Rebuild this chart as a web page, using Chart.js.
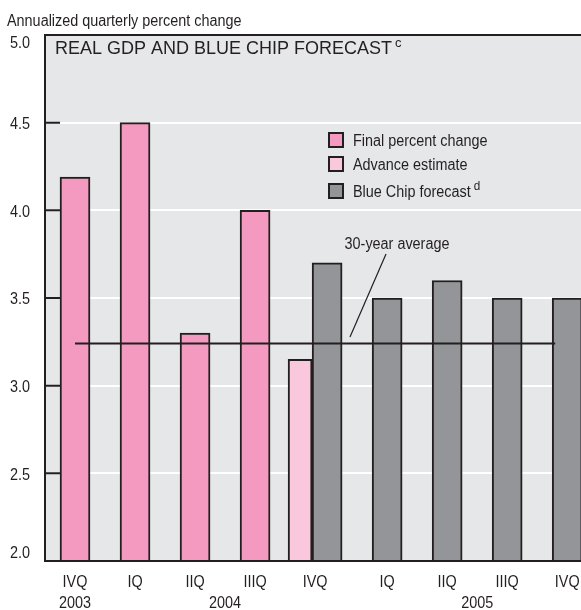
<!DOCTYPE html>
<html>
<head>
<meta charset="utf-8">
<script src="https://cdn.jsdelivr.net/npm/chart.js@4.4.0/dist/chart.umd.min.js"></script>
<style>
  html, body { margin: 0; padding: 0; background: #fff; }
  #wrap { width: 581px; height: 610px; }
</style>
</head>
<body>
<div id="wrap"><canvas id="chart"></canvas></div>
<script>
// quarters along the bottom, and the years they belong to
const quarters = ['IVQ', 'IQ', 'IIQ', 'IIIQ', 'IVQ', 'IQ', 'IIQ', 'IIIQ', 'IVQ'];
const years = ['2003', '2004', '2005'];
const yearFirstQuarter = [0, 1, 5];
const yearLastQuarter = [0, 4, 8];

// annualized quarterly percent change
const finalChange = [4.19, 4.5, 3.3, 4.0, null, null, null, null, null];
const advanceEstimate = [null, null, null, null, 3.15, null, null, null, null];
const blueChipForecast = [null, null, null, null, 3.7, 3.5, 3.6, 3.5, 3.5];
const thirtyYearAverage = 3.24;

const yTicks = [2.0, 2.5, 3.0, 3.5, 4.0, 4.5, 5.0];

const INK = '#231f20';
const FAMILY = '"Liberation Sans", Arial, sans-serif';
const SQUEEZE = 0.9; // condensed look for the axis and legend type

// the IVQ 2004 pair sits side by side, so the forecast bars are nudged right
const advanceShift = -0.25;
const forecastShift = 0.2;
const tickX = i => (i > 4 ? i + forecastShift : i);

const toPoints = (arr, shift) =>
  arr.map((v, i) => (v == null ? null : { x: i + shift, y: v })).filter(Boolean);

function narrow(ctx, str, x, y, size, align, baseline) {
  ctx.save();
  ctx.font = size + 'px ' + FAMILY;
  ctx.textAlign = align || 'left';
  ctx.textBaseline = baseline || 'alphabetic';
  ctx.translate(x, y);
  ctx.scale(SQUEEZE, 1);
  ctx.fillText(str, 0, 0);
  const w = ctx.measureText(str).width * SQUEEZE;
  ctx.restore();
  return w;
}

const decor = {
  id: 'decor',
  beforeDraw(chart) {
    const { ctx, chartArea: a } = chart;
    ctx.save();
    ctx.fillStyle = '#e6e7e8';
    ctx.fillRect(a.left, a.top, a.right - a.left, a.bottom - a.top);
    ctx.restore();
  },
  afterDraw(chart) {
    const { ctx, chartArea: a, scales: { x, y } } = chart;
    ctx.save();

    // frame
    ctx.strokeStyle = INK;
    ctx.lineWidth = 2;
    ctx.beginPath();
    ctx.moveTo(a.left, a.bottom);
    ctx.lineTo(a.left, a.top);
    ctx.lineTo(a.right, a.top);
    ctx.moveTo(a.left - 1, a.bottom);
    ctx.lineTo(a.right, a.bottom);
    ctx.stroke();

    // inner tick marks
    ctx.beginPath();
    yTicks.forEach(v => {
      const py = y.getPixelForValue(v);
      ctx.moveTo(a.left, py);
      ctx.lineTo(a.left + 15, py);
    });
    ctx.stroke();

    ctx.fillStyle = INK;

    // y tick labels
    yTicks.forEach(v => {
      let py = y.getPixelForValue(v) + 2;
      py = Math.min(Math.max(py, a.top + 9), a.bottom - 7);
      narrow(ctx, v.toFixed(1), a.left - 15, py, 16, 'right', 'middle');
    });

    // quarter and year labels
    quarters.forEach((q, i) => {
      narrow(ctx, q, x.getPixelForValue(tickX(i)), a.bottom + 26, 16, 'center');
    });
    years.forEach((yr, k) => {
      const cx = (x.getPixelForValue(tickX(yearFirstQuarter[k])) +
                  x.getPixelForValue(tickX(yearLastQuarter[k]))) / 2;
      narrow(ctx, yr, cx, a.bottom + 47, 16, 'center');
    });

    // axis unit title
    narrow(ctx, 'Annualized quarterly percent change', 7, 26, 16);

    // panel title
    ctx.font = '18px ' + FAMILY;
    ctx.textAlign = 'left';
    ctx.textBaseline = 'alphabetic';
    const title = 'REAL GDP AND BLUE CHIP FORECAST';
    ctx.fillText(title, a.left + 10, a.top + 19);
    const tw = ctx.measureText(title).width;
    ctx.font = '13px ' + FAMILY;
    ctx.fillText('c', a.left + 13 + tw, a.top + 12);

    // legend
    const rows = [a.top + 105, a.top + 129, a.top + 156];
    const bars = chart.data.datasets.filter(d => d.type === 'bar');
    bars.forEach((d, k) => {
      const cy = rows[k];
      ctx.fillStyle = d.backgroundColor;
      ctx.fillRect(329, cy - 7, 14, 14);
      ctx.strokeStyle = INK;
      ctx.lineWidth = 2;
      ctx.strokeRect(329, cy - 7, 14, 14);
      ctx.fillStyle = INK;
      const lw = narrow(ctx, d.label, 353, cy + 6, 16);
      if (d.legendSup) narrow(ctx, d.legendSup, 356 + lw, cy - 1, 13);
    });

    // 30-year average callout
    narrow(ctx, '30-year average', 397, 249, 16, 'center');
    ctx.strokeStyle = INK;
    ctx.lineWidth = 1.2;
    ctx.beginPath();
    ctx.moveTo(386, 254);
    ctx.lineTo(350, 337);
    ctx.stroke();

    ctx.restore();
  }
};

new Chart(document.getElementById('chart'), {
  data: {
    datasets: [
      {
        type: 'line',
        label: '30-year average',
        data: [{ x: 0, y: thirtyYearAverage }, { x: quarters.length - 1, y: thirtyYearAverage }],
        borderColor: INK,
        borderWidth: 2,
        pointRadius: 0,
        order: 0
      },
      {
        type: 'bar',
        label: 'Final percent change',
        data: toPoints(finalChange, 0),
        backgroundColor: '#f49ac1',
        borderColor: INK,
        borderWidth: 2,
        borderSkipped: 'start',
        barThickness: 30,
        grouped: false,
        order: 1
      },
      {
        type: 'bar',
        label: 'Advance estimate',
        data: toPoints(advanceEstimate, advanceShift),
        backgroundColor: '#f9c8dc',
        borderColor: INK,
        borderWidth: 2,
        borderSkipped: 'start',
        barThickness: 24,
        grouped: false,
        order: 1
      },
      {
        type: 'bar',
        label: 'Blue Chip forecast',
        legendSup: 'd',
        data: toPoints(blueChipForecast, forecastShift),
        backgroundColor: '#939598',
        borderColor: INK,
        borderWidth: 2,
        borderSkipped: 'start',
        barThickness: 30,
        grouped: false,
        order: 1
      }
    ]
  },
  options: {
    responsive: true,
    maintainAspectRatio: false,
    animation: false,
    devicePixelRatio: 1,
    layout: { padding: { top: 35, left: 0, right: 0, bottom: 0 } },
    plugins: { legend: { display: false }, tooltip: { enabled: false } },
    scales: {
      x: {
        type: 'linear',
        offset: false,
        min: -0.5,
        max: 8.43, // the panel crops the last forecast bar at its right edge
        grid: { display: false, drawTicks: false },
        border: { display: false },
        afterFit: s => { s.height = 49; },
        afterBuildTicks: s => { s.ticks = quarters.map((q, i) => ({ value: tickX(i) })); },
        ticks: { display: false }
      },
      y: {
        min: 2,
        max: 5,
        grid: { color: '#ffffff', lineWidth: 2, drawTicks: false },
        border: { display: false },
        afterFit: s => { s.width = 45; },
        afterBuildTicks: s => { s.ticks = yTicks.map(v => ({ value: v })); },
        ticks: { display: false }
      }
    }
  },
  plugins: [decor]
});
</script>
</body>
</html>
